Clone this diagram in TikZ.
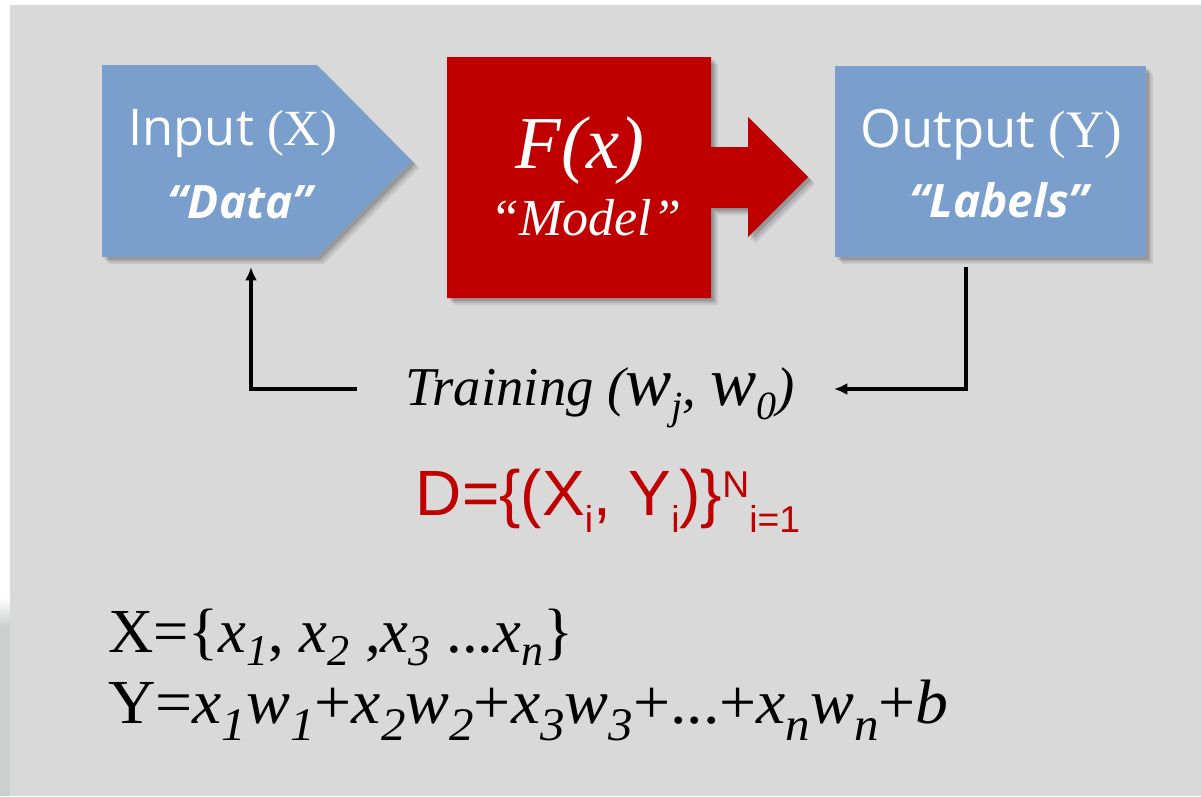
\documentclass[tikz,border=0pt]{standalone}
\usepackage{fontspec}
\setmainfont{Liberation Serif}
\newfontfamily\osans{Open Sans}
\newfontfamily\arialf{Liberation Sans}
\usetikzlibrary{arrows.meta}
\definecolor{bgc}{HTML}{D9D9D9}
\definecolor{blu}{HTML}{7B9FCC}
\definecolor{rd}{HTML}{C00000}
\definecolor{stripc}{HTML}{CDCFCE}
\newcommand{\fsz}[1]{\fontsize{#1}{#1}\selectfont}
\newcommand{\lsub}[3]{\raisebox{#1}{\fontsize{#2}{#2}\selectfont #3}}
\newcommand{\xs}[1]{\lsub{-10pt}{33pt}{\itshape #1}}
\newcommand{\ys}[1]{\lsub{-13pt}{35pt}{\itshape #1}}
\begin{document}
\begin{tikzpicture}[x=0.75pt,y=-0.75pt,
  conn/.style={line width=2.3pt,-{Latex[length=10pt,width=9pt]}},
  lbl/.style={inner sep=0pt,outer sep=0pt}]
\useasboundingbox (0,0) rectangle (1201,796);
\fill[white] (0,0) rectangle (1201,796);
\fill[bgc] (10,5) rectangle (1201,796);
\shade[top color=white,bottom color=stripc] (0,598) rectangle (10,626);
\fill[stripc] (0,626) rectangle (10,796);
% shadows
\foreach \d/\o in {7/0.08,5/0.10,3/0.14}{
  \begin{scope}[shift={(\d,\d)}]
    \fill[black,opacity=\o] (102,65) -- (317,65) -- (412,161) -- (317,257) -- (102,257) -- cycle;
    \fill[black,opacity=\o] (447,57) -- (711,57) -- (711,147) -- (748,147) -- (748,117) -- (808,177) -- (748,237) -- (748,208) -- (711,208) -- (711,298) -- (447,298) -- cycle;
    \fill[black,opacity=\o] (835,66) rectangle (1146,257);
  \end{scope}}
% shapes
\fill[blu] (102,65) -- (317,65) -- (412,161) -- (317,257) -- (102,257) -- cycle;
\fill[rd] (447,57) -- (711,57) -- (711,147) -- (748,147) -- (748,117) -- (808,177) -- (748,237) -- (748,208) -- (711,208) -- (711,298) -- (447,298) -- cycle;
\fill[blu] (835,66) rectangle (1146,257);
% texts
\node[lbl,anchor=base,text=white] (inA) at (233,145) {\osans\fsz{38pt}Input \rmfamily(X)};
\node[lbl,anchor=base,text=white] (inB) at (240,218) {\osans\fsz{34.5pt}\bfseries\itshape “Data”};
\node[lbl,anchor=base,text=white] (fx) at (580,168) {\fsz{56pt}\itshape F(x)};
\node[lbl,anchor=base,text=white] (model) at (586,235) {\fsz{39pt}\itshape “Model”};
\node[lbl,anchor=base,text=white] (outA) at (991,147) {\osans\fsz{39.5pt}Output \rmfamily(Y)};
\node[lbl,anchor=base,text=white] (outB) at (999,217) {\osans\fsz{34.5pt}\bfseries\itshape “Labels”};
\node[lbl,anchor=base] (train) at (600,405) {\fsz{41pt}\itshape Training (\fsz{52pt}w\lsub{-11pt}{30pt}{j}\fsz{41pt}, \fsz{52pt}w\lsub{-11pt}{30pt}{0}\fsz{41pt})};
\node[lbl,anchor=base,text=rd] (dset) at (608,515) {\arialf\fsz{48pt}D=\{(X\lsub{-13pt}{28pt}{i}, Y\lsub{-13pt}{28pt}{i})\}\raisebox{13pt}{\fsz{28pt}N}\lsub{-13pt}{28pt}{i=1}};
\node[lbl,anchor=base west] (xset) at (108,652) {\fsz{47pt}X=\{\textit{x}\xs{1}, \textit{x}\xs{2} ,\textit{x}\xs{3} ...\textit{x}\xs{n}\}};
\node[lbl,anchor=base west] (yeq) at (108,723) {\scalebox{1.05}[1]{\fsz{47pt}Y=\textit{x}\ys{1}\textit{w}\ys{1}+\textit{x}\ys{2}\textit{w}\ys{2}+\textit{x}\ys{3}\textit{w}\ys{3}+...+\textit{x}\ys{n}\textit{w}\ys{n}+\textit{b}}};
% connectors
\coordinate (lstart) at (357,389);
\coordinate (inarr) at (251,267);
\coordinate (outtop) at (966,267);
\coordinate (rend) at (834,389);
\draw[conn] (lstart) -| (inarr);
\draw[conn] (outtop) |- (rend);
\end{tikzpicture}
\end{document}
